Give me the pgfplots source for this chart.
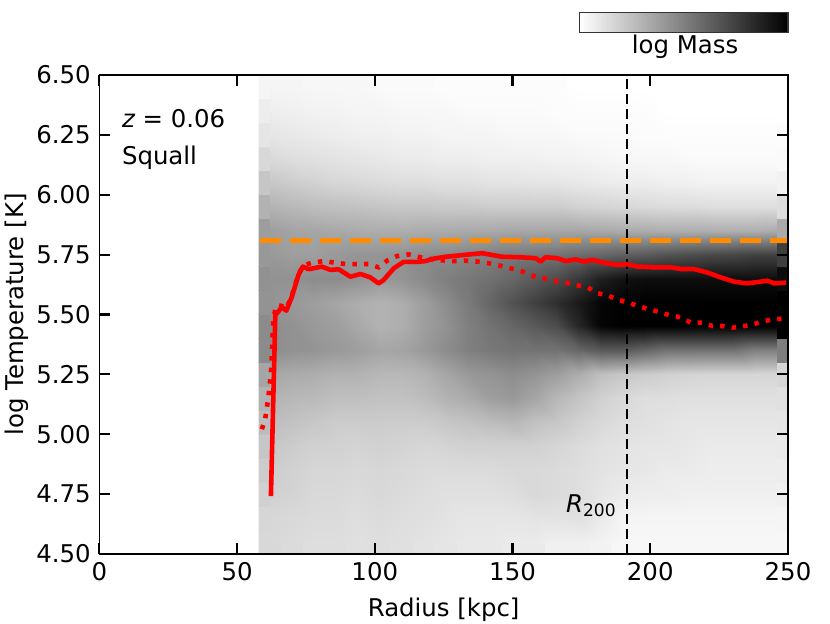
\documentclass[border=0pt]{standalone}
\usepackage{fontspec}
\setmainfont{DejaVu Sans}
\usepackage{pgfplots}
\usepackage{pgfplotstable}
\pgfplotsset{compat=1.18}
\definecolor{dorange}{RGB}{255,140,0}
\pgfplotstableread[row sep=\\]{
x y c\\
62 4.55 1.5\\ 70 4.55 1.4\\ 78 4.55 1.3\\ 86 4.55 1.3\\ 94 4.55 1.2\\ 102 4.55 1.3\\ 110 4.55 1.2\\ 118 4.55 1.1\\ 126 4.55 1.0\\ 134 4.55 0.9\\ 142 4.55 0.9\\ 150 4.55 0.8\\ 158 4.55 0.8\\ 166 4.55 0.6\\ 174 4.55 0.6\\ 182 4.55 0.5\\ 190 4.55 0.3\\ 198 4.55 0.3\\ 206 4.55 0.3\\ 214 4.55 0.3\\ 222 4.55 0.3\\ 230 4.55 0.3\\ 238 4.55 0.3\\ 246 4.55 0.3\\
62 4.65 1.6\\ 70 4.65 1.5\\ 78 4.65 1.4\\ 86 4.65 1.4\\ 94 4.65 1.3\\ 102 4.65 1.4\\ 110 4.65 1.3\\ 118 4.65 1.2\\ 126 4.65 1.1\\ 134 4.65 1.0\\ 142 4.65 1.0\\ 150 4.65 1.0\\ 158 4.65 1.1\\ 166 4.65 1.1\\ 174 4.65 1.2\\ 182 4.65 0.8\\ 190 4.65 0.4\\ 198 4.65 0.4\\ 206 4.65 0.4\\ 214 4.65 0.4\\ 222 4.65 0.4\\ 230 4.65 0.4\\ 238 4.65 0.4\\ 246 4.65 0.4\\
62 4.75 1.8\\ 70 4.75 1.7\\ 78 4.75 1.5\\ 86 4.75 1.5\\ 94 4.75 1.4\\ 102 4.75 1.5\\ 110 4.75 1.4\\ 118 4.75 1.3\\ 126 4.75 1.2\\ 134 4.75 1.2\\ 142 4.75 1.2\\ 150 4.75 1.3\\ 158 4.75 1.5\\ 166 4.75 1.4\\ 174 4.75 1.3\\ 182 4.75 1.0\\ 190 4.75 0.8\\ 198 4.75 0.7\\ 206 4.75 0.7\\ 214 4.75 0.6\\ 222 4.75 0.6\\ 230 4.75 0.6\\ 238 4.75 0.6\\ 246 4.75 0.6\\
62 4.85 2.0\\ 70 4.85 1.8\\ 78 4.85 1.6\\ 86 4.85 1.6\\ 94 4.85 1.5\\ 102 4.85 1.6\\ 110 4.85 1.5\\ 118 4.85 1.4\\ 126 4.85 1.4\\ 134 4.85 1.4\\ 142 4.85 1.4\\ 150 4.85 1.5\\ 158 4.85 1.5\\ 166 4.85 1.4\\ 174 4.85 1.3\\ 182 4.85 1.1\\ 190 4.85 1.0\\ 198 4.85 0.9\\ 206 4.85 0.8\\ 214 4.85 0.8\\ 222 4.85 0.7\\ 230 4.85 0.7\\ 238 4.85 0.7\\ 246 4.85 0.7\\
62 4.95 2.2\\ 70 4.95 2.0\\ 78 4.95 1.8\\ 86 4.95 1.8\\ 94 4.95 1.7\\ 102 4.95 1.8\\ 110 4.95 1.7\\ 118 4.95 1.6\\ 126 4.95 1.7\\ 134 4.95 1.8\\ 142 4.95 1.8\\ 150 4.95 1.8\\ 158 4.95 1.8\\ 166 4.95 1.6\\ 174 4.95 1.4\\ 182 4.95 1.2\\ 190 4.95 1.1\\ 198 4.95 1.0\\ 206 4.95 1.0\\ 214 4.95 0.9\\ 222 4.95 0.8\\ 230 4.95 0.8\\ 238 4.95 0.8\\ 246 4.95 0.8\\
62 5.05 2.6\\ 70 5.05 2.4\\ 78 5.05 2.2\\ 86 5.05 2.0\\ 94 5.05 2.0\\ 102 5.05 2.0\\ 110 5.05 2.0\\ 118 5.05 2.0\\ 126 5.05 2.2\\ 134 5.05 2.4\\ 142 5.05 2.6\\ 150 5.05 2.8\\ 158 5.05 2.4\\ 166 5.05 2.2\\ 174 5.05 1.8\\ 182 5.05 1.5\\ 190 5.05 1.3\\ 198 5.05 1.2\\ 206 5.05 1.1\\ 214 5.05 1.0\\ 222 5.05 1.0\\ 230 5.05 1.0\\ 238 5.05 1.0\\ 246 5.05 1.0\\
62 5.15 3.0\\ 70 5.15 2.8\\ 78 5.15 2.7\\ 86 5.15 2.5\\ 94 5.15 2.5\\ 102 5.15 2.4\\ 110 5.15 2.4\\ 118 5.15 2.6\\ 126 5.15 3.0\\ 134 5.15 3.3\\ 142 5.15 3.8\\ 150 5.15 4.0\\ 158 5.15 3.5\\ 166 5.15 2.8\\ 174 5.15 2.3\\ 182 5.15 1.8\\ 190 5.15 1.5\\ 198 5.15 1.3\\ 206 5.15 1.3\\ 214 5.15 1.2\\ 222 5.15 1.2\\ 230 5.15 1.2\\ 238 5.15 1.2\\ 246 5.15 1.2\\
62 5.25 3.5\\ 70 5.25 3.3\\ 78 5.25 3.2\\ 86 5.25 3.0\\ 94 5.25 3.0\\ 102 5.25 2.8\\ 110 5.25 2.8\\ 118 5.25 3.0\\ 126 5.25 3.5\\ 134 5.25 4.0\\ 142 5.25 4.2\\ 150 5.25 4.5\\ 158 5.25 4.2\\ 166 5.25 3.8\\ 174 5.25 3.2\\ 182 5.25 2.5\\ 190 5.25 2.2\\ 198 5.25 2.0\\ 206 5.25 1.8\\ 214 5.25 1.7\\ 222 5.25 1.6\\ 230 5.25 1.6\\ 238 5.25 1.6\\ 246 5.25 1.6\\
62 5.35 4.5\\ 70 5.35 4.3\\ 78 5.35 4.2\\ 86 5.35 4.0\\ 94 5.35 3.8\\ 102 5.35 3.5\\ 110 5.35 3.6\\ 118 5.35 4.0\\ 126 5.35 4.5\\ 134 5.35 5.0\\ 142 5.35 5.3\\ 150 5.35 5.5\\ 158 5.35 5.5\\ 166 5.35 5.5\\ 174 5.35 6.0\\ 182 5.35 6.5\\ 190 5.35 6.5\\ 198 5.35 6.0\\ 206 5.35 5.5\\ 214 5.35 5.5\\ 222 5.35 5.5\\ 230 5.35 5.5\\ 238 5.35 5.0\\ 246 5.35 5.0\\
62 5.45 4.5\\ 70 5.45 4.3\\ 78 5.45 4.0\\ 86 5.45 3.8\\ 94 5.45 3.4\\ 102 5.45 3.0\\ 110 5.45 3.2\\ 118 5.45 3.8\\ 126 5.45 4.3\\ 134 5.45 5.0\\ 142 5.45 5.5\\ 150 5.45 6.0\\ 158 5.45 6.5\\ 166 5.45 7.0\\ 174 5.45 8.5\\ 182 5.45 9.8\\ 190 5.45 10\\ 198 5.45 10\\ 206 5.45 10\\ 214 5.45 10\\ 222 5.45 10\\ 230 5.45 10\\ 238 5.45 10\\ 246 5.45 10\\
62 5.55 4.2\\ 70 5.55 4.0\\ 78 5.55 3.8\\ 86 5.55 3.5\\ 94 5.55 3.2\\ 102 5.55 3.0\\ 110 5.55 3.2\\ 118 5.55 3.8\\ 126 5.55 4.5\\ 134 5.55 5.2\\ 142 5.55 6.0\\ 150 5.55 6.8\\ 158 5.55 7.5\\ 166 5.55 8.2\\ 174 5.55 9.0\\ 182 5.55 9.8\\ 190 5.55 10\\ 198 5.55 10\\ 206 5.55 10\\ 214 5.55 10\\ 222 5.55 10\\ 230 5.55 10\\ 238 5.55 10\\ 246 5.55 10\\
62 5.65 4.3\\ 70 5.65 4.3\\ 78 5.65 4.5\\ 86 5.65 4.5\\ 94 5.65 4.3\\ 102 5.65 4.0\\ 110 5.65 4.2\\ 118 5.65 4.6\\ 126 5.65 5.0\\ 134 5.65 5.3\\ 142 5.65 5.6\\ 150 5.65 6.0\\ 158 5.65 6.5\\ 166 5.65 7.0\\ 174 5.65 7.8\\ 182 5.65 8.8\\ 190 5.65 9.3\\ 198 5.65 9.5\\ 206 5.65 9.5\\ 214 5.65 9.5\\ 222 5.65 9.5\\ 230 5.65 9.5\\ 238 5.65 9.5\\ 246 5.65 9.5\\
62 5.75 4.0\\ 70 5.75 3.8\\ 78 5.75 3.8\\ 86 5.75 4.0\\ 94 5.75 4.2\\ 102 5.75 4.2\\ 110 5.75 4.3\\ 118 5.75 4.5\\ 126 5.75 4.6\\ 134 5.75 4.8\\ 142 5.75 5.0\\ 150 5.75 5.2\\ 158 5.75 5.3\\ 166 5.75 5.5\\ 174 5.75 5.8\\ 182 5.75 6.0\\ 190 5.75 6.3\\ 198 5.75 6.5\\ 206 5.75 6.8\\ 214 5.75 7.0\\ 222 5.75 7.2\\ 230 5.75 7.3\\ 238 5.75 7.5\\ 246 5.75 7.5\\
62 5.85 3.8\\ 70 5.85 3.6\\ 78 5.85 3.5\\ 86 5.85 3.4\\ 94 5.85 3.3\\ 102 5.85 3.2\\ 110 5.85 3.2\\ 118 5.85 3.3\\ 126 5.85 3.3\\ 134 5.85 3.4\\ 142 5.85 3.4\\ 150 5.85 3.5\\ 158 5.85 3.5\\ 166 5.85 3.5\\ 174 5.85 3.5\\ 182 5.85 3.4\\ 190 5.85 3.3\\ 198 5.85 3.3\\ 206 5.85 3.2\\ 214 5.85 3.2\\ 222 5.85 3.2\\ 230 5.85 3.2\\ 238 5.85 3.2\\ 246 5.85 3.3\\
62 5.95 3.0\\ 70 5.95 2.8\\ 78 5.95 2.6\\ 86 5.95 2.5\\ 94 5.95 2.4\\ 102 5.95 2.3\\ 110 5.95 2.2\\ 118 5.95 2.2\\ 126 5.95 2.1\\ 134 5.95 2.1\\ 142 5.95 2.0\\ 150 5.95 2.0\\ 158 5.95 2.0\\ 166 5.95 2.0\\ 174 5.95 1.8\\ 182 5.95 1.7\\ 190 5.95 1.6\\ 198 5.95 1.5\\ 206 5.95 1.4\\ 214 5.95 1.4\\ 222 5.95 1.3\\ 230 5.95 1.3\\ 238 5.95 1.3\\ 246 5.95 1.3\\
62 6.05 2.2\\ 70 6.05 2.0\\ 78 6.05 1.8\\ 86 6.05 1.6\\ 94 6.05 1.5\\ 102 6.05 1.4\\ 110 6.05 1.3\\ 118 6.05 1.3\\ 126 6.05 1.2\\ 134 6.05 1.2\\ 142 6.05 1.1\\ 150 6.05 1.1\\ 158 6.05 1.0\\ 166 6.05 1.0\\ 174 6.05 0.9\\ 182 6.05 0.8\\ 190 6.05 0.7\\ 198 6.05 0.7\\ 206 6.05 0.6\\ 214 6.05 0.6\\ 222 6.05 0.5\\ 230 6.05 0.5\\ 238 6.05 0.5\\ 246 6.05 0.5\\
62 6.15 1.5\\ 70 6.15 1.3\\ 78 6.15 1.2\\ 86 6.15 1.1\\ 94 6.15 1.0\\ 102 6.15 0.9\\ 110 6.15 0.8\\ 118 6.15 0.8\\ 126 6.15 0.7\\ 134 6.15 0.7\\ 142 6.15 0.6\\ 150 6.15 0.6\\ 158 6.15 0.6\\ 166 6.15 0.5\\ 174 6.15 0.5\\ 182 6.15 0.4\\ 190 6.15 0.3\\ 198 6.15 0.3\\ 206 6.15 0.3\\ 214 6.15 0.2\\ 222 6.15 0.2\\ 230 6.15 0.2\\ 238 6.15 0.2\\ 246 6.15 0.2\\
62 6.25 1.0\\ 70 6.25 0.9\\ 78 6.25 0.8\\ 86 6.25 0.7\\ 94 6.25 0.6\\ 102 6.25 0.6\\ 110 6.25 0.5\\ 118 6.25 0.5\\ 126 6.25 0.4\\ 134 6.25 0.4\\ 142 6.25 0.4\\ 150 6.25 0.3\\ 158 6.25 0.3\\ 166 6.25 0.3\\ 174 6.25 0.2\\ 182 6.25 0.2\\ 190 6.25 0.2\\ 198 6.25 0.1\\ 206 6.25 0.1\\ 214 6.25 0.1\\ 222 6.25 0.1\\ 230 6.25 0.1\\ 238 6.25 0.1\\ 246 6.25 0.1\\
62 6.35 0.7\\ 70 6.35 0.6\\ 78 6.35 0.5\\ 86 6.35 0.5\\ 94 6.35 0.4\\ 102 6.35 0.4\\ 110 6.35 0.3\\ 118 6.35 0.3\\ 126 6.35 0.3\\ 134 6.35 0.2\\ 142 6.35 0.2\\ 150 6.35 0.2\\ 158 6.35 0.2\\ 166 6.35 0.1\\ 174 6.35 0.1\\ 182 6.35 0.1\\ 190 6.35 0.1\\ 198 6.35 0.1\\ 206 6.35 0\\ 214 6.35 0\\ 222 6.35 0\\ 230 6.35 0\\ 238 6.35 0\\ 246 6.35 0\\
62 6.45 0.4\\ 70 6.45 0.4\\ 78 6.45 0.3\\ 86 6.45 0.3\\ 94 6.45 0.3\\ 102 6.45 0.2\\ 110 6.45 0.2\\ 118 6.45 0.2\\ 126 6.45 0.1\\ 134 6.45 0.1\\ 142 6.45 0.1\\ 150 6.45 0.1\\ 158 6.45 0.1\\ 166 6.45 0.1\\ 174 6.45 0\\ 182 6.45 0\\ 190 6.45 0\\ 198 6.45 0\\ 206 6.45 0\\ 214 6.45 0\\ 222 6.45 0\\ 230 6.45 0\\ 238 6.45 0\\ 246 6.45 0\\
}\heat
\begin{document}
\fontsize{12.2}{14}\selectfont
\begin{tikzpicture}
\path[use as bounding box] (-49.65pt,-34.5pt) rectangle (365.35pt,277pt);
\begin{axis}[
  at={(0,0)}, anchor=south west,
  scale only axis, width=344.35pt, height=239.5pt,
  xmin=0, xmax=250, ymin=4.5, ymax=6.5,
  xtick={0,50,100,150,200,250},
  ytick={4.5,4.75,5,5.25,5.5,5.75,6,6.25,6.5},
  yticklabel style={/pgf/number format/.cd, fixed, fixed zerofill, precision=2},
  /pgf/number format/assume math mode=true,
  tick align=inside, major tick length=5.5pt,
  every tick/.style={black, line width=1.1pt},
  axis line style={line width=0.6pt},
  xlabel={Radius [kpc]}, ylabel={log Temperature [K]},
  every axis y label/.style={at={(axis description cs:-0.1194,0.5)}, rotate=90, anchor=center},
  colormap={greys}{color(0)=(white) color(1)=(black)},
  point meta min=0, point meta max=10,
  colorbar horizontal,
  colorbar style={at={(parent axis.north east)}, anchor=south east, yshift=29.9pt,
    width=104.3pt, height=10pt, xtick=\empty, ytick=\empty, xlabel={},
    axis line style={line width=0.6pt, black!80}},
  axis on top,
]
\addplot[matrix plot*, mesh/cols=24, point meta=explicit] table[meta=c] {\heat};
\addplot[surf, shader=interp, mesh/cols=24, point meta=explicit] table[meta=c] {\heat};
\addplot[black, line width=1pt, dash pattern=on 5pt off 2.5pt] coordinates {(191.7,4.5) (191.7,6.5)};
\addplot[dorange, line width=2.6pt, dash pattern=on 10.5pt off 4.5pt] coordinates {(58.5,5.81) (249.5,5.81)};
\addplot[red, line width=2.3pt, dash pattern=on 2.2pt off 3.6pt] coordinates {
(59.0,5.021) (60.2,5.062) (61.4,5.157) (62.3,5.254) (62.7,5.352) (63.0,5.449) (63.9,5.526) (64.7,5.540) (66.3,5.535) (67.9,5.525) (69.9,5.580) (72.3,5.668) (74.0,5.705) (77.2,5.716) (81.4,5.723) (85.7,5.716) (89.3,5.711) (93.6,5.710) (97.8,5.711) (101.4,5.697) (104.5,5.725) (108.1,5.744) (112.3,5.751) (117.2,5.737) (122.0,5.728) (128.7,5.723) (132.9,5.725) (137.2,5.721) (141.4,5.714) (145.7,5.703) (149.3,5.693) (153.5,5.680) (157.5,5.661) (161.4,5.651) (165.0,5.641) (169.3,5.633) (173.5,5.622) (177.2,5.614) (180.8,5.589) (184.4,5.581) (188.1,5.562) (191.7,5.551) (195.6,5.535) (199.6,5.522) (206.8,5.498) (211.1,5.488) (214.7,5.466) (219.0,5.466) (222.6,5.452) (226.2,5.452) (229.9,5.445) (234.1,5.452) (237.7,5.460) (241.4,5.473) (245.0,5.480) (249.0,5.484)
};
\addplot[red, line width=2.3pt, line join=round] coordinates {
(62.3,4.742) (63.9,5.498) (66.3,5.530) (67.9,5.516) (69.9,5.574) (72.3,5.665) (73.9,5.700) (76.0,5.689) (80.8,5.700) (83.9,5.686) (86.9,5.689) (91.1,5.658) (94.8,5.669) (98.4,5.655) (101.4,5.630) (103.2,5.644) (106.9,5.693) (110.5,5.720) (115.4,5.720) (118.4,5.723) (120.8,5.732) (125.7,5.741) (131.7,5.748) (139.0,5.756) (146.3,5.741) (152.9,5.739) (158.4,5.735) (160.2,5.721) (162.0,5.739) (166.3,5.735) (169.3,5.723) (172.9,5.730) (175.9,5.721) (179.0,5.728) (183.2,5.716) (188.1,5.707) (191.7,5.710) (195.3,5.700) (201.4,5.697) (207.5,5.697) (211.1,5.690) (215.9,5.690) (220.8,5.675) (225.6,5.655) (230.5,5.637) (235.3,5.630) (242.6,5.641) (245.0,5.630) (249.3,5.633)
};
\node[anchor=base west, inner sep=0pt] at (axis cs:8.1,6.279) {{\itshape z} = 0.06};
\node[anchor=base west, inner sep=0pt] at (axis cs:8.1,6.128) {Squall};
\node[anchor=base west, inner sep=0pt] at (axis cs:169.3,4.675) {{\itshape R}\textsubscript{200}};
\end{axis}
\node[anchor=base, inner sep=0pt] at (292.9pt,250.35pt) {log Mass};
\end{tikzpicture}
\end{document}
